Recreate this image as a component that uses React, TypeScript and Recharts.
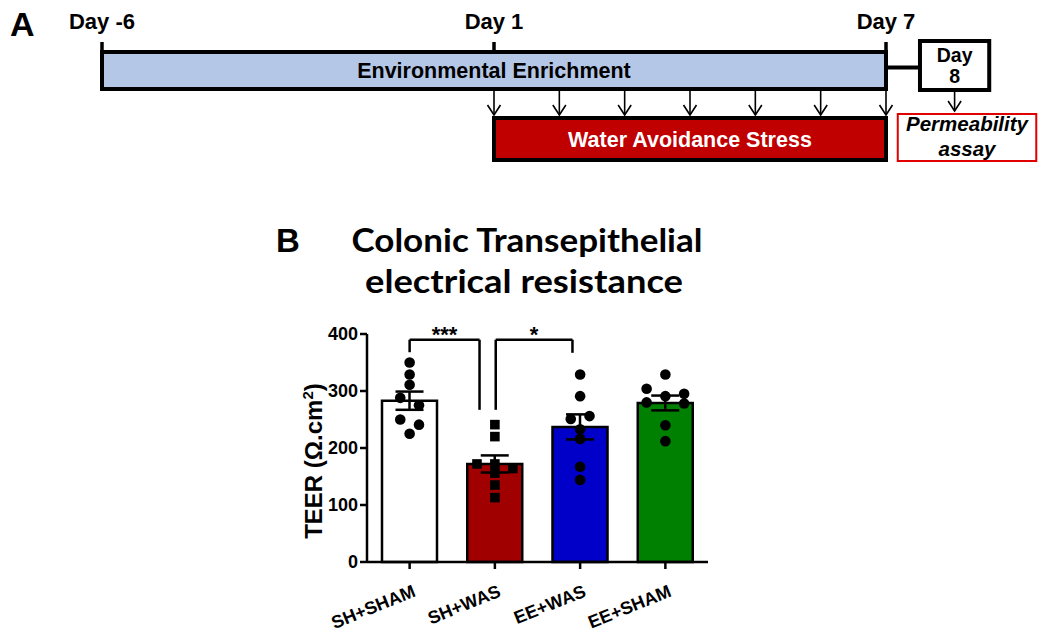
import {
  Bar,
  Cell,
  ComposedChart,
  ErrorBar,
  ReferenceArea,
  ReferenceLine,
  Scatter,
  XAxis,
  YAxis,
} from 'recharts'

const FONT = '"Liberation Sans", Arial, sans-serif'

// ---- panel A: protocol timeline (slot = position along the schematic) ----
const dayLabels = ['Day -6', 'Day 1', 'Day 7']
const daySlots = [0, 6, 12]
const wasArrowSlots = [6, 7, 8, 9, 10, 11, 12]
const day8Lines = ['Day', '8']
const assayLines = ['Permeability', 'assay']
const day8Slot = 13.05

// rows of the schematic (in tenths of the strip height)
const eeRow = [5.2, 8.9]
const wasRow = [11.8, 16.0]
const day8Row = [4.1, 9.0]
const assayRow = [11.4, 16.1]

// ---- panel B: TEER ----
const groups = ['SH+SHAM', 'SH+WAS', 'EE+WAS', 'EE+SHAM']
const means = [283, 172, 237, 279]
const sems = [16, 15, 22, 13]
const fills = ['#ffffff', '#a00000', '#0000c8', '#008000']

const shShamPts = [350, 329, 311, 288, 275, 250, 241, 225]
const shShamJitter = [0, 0, 0, -0.11, 0.11, -0.11, 0.11, 0]
const shWasPts = [241, 220, 172, 172, 164, 156, 135, 113]
const shWasJitter = [0, 0, -0.21, 0, 0.21, 0, 0, 0]
const eeWasPts = [329, 291, 251, 256, 233, 216, 167, 144]
const eeWasJitter = [0, 0, -0.11, 0.11, 0, 0, 0, 0]
const eeShamPts = [329, 304, 295, 291, 280, 278, 240, 212]
const eeShamJitter = [0, -0.22, 0.22, 0, -0.22, 0.22, 0, 0]

const yTicks = [0, 100, 200, 300, 400]

// significance brackets: from/to in group units, heights in TEER units
const brackets = [
  { from: 0, to: 0.82, top: 390, leftEnd: 368, rightEnd: 267, label: '***' },
  { from: 1.01, to: 1.91, top: 390, leftEnd: 267, rightEnd: 367, label: '*' },
]

const barData = groups.map((name, i) => ({ name, mean: means[i], sem: sems[i] }))
const pts = (gi: number, vals: number[], jit: number[]) =>
  vals.map((v, i) => ({ pos: gi + jit[i], teer: v }))
const circlePts = [
  ...pts(0, shShamPts, shShamJitter),
  ...pts(2, eeWasPts, eeWasJitter),
  ...pts(3, eeShamPts, eeShamJitter),
]
const squarePts = pts(1, shWasPts, shWasJitter)

const Arrow = (len: number) => (p: any) => (
  <g stroke="#000" strokeWidth={1.6} fill="none">
    <line x1={p.cx} y1={p.cy - len} x2={p.cx} y2={p.cy} />
    <polyline points={`${p.cx - 6.5},${p.cy - 10} ${p.cx},${p.cy} ${p.cx + 6.5},${p.cy - 10}`} />
  </g>
)

const DayText = (p: any) => (
  <text x={p.cx} y={p.cy} textAnchor="middle" fontFamily={FONT} fontWeight={700} fontSize={22} fill="#000">
    {p.payload.label}
  </text>
)

const boxLabel = (lines: string[], first: number, step: number, italic: boolean, size: number) => (p: any) => {
  const { x, y, width } = p.viewBox
  return (
    <g>
      {lines.map((l, i) => (
        <text
          key={l}
          x={x + width / 2}
          y={y + first + i * step}
          textAnchor="middle"
          fontFamily={FONT}
          fontWeight={700}
          fontStyle={italic ? 'italic' : 'normal'}
          fontSize={size}
          fill="#000"
        >
          {l}
        </text>
      ))}
    </g>
  )
}

const starLabel = (text: string) => (p: any) => {
  const { x, y, width } = p.viewBox
  return (
    <text x={x + width / 2} y={y + 2} textAnchor="middle" fontFamily={FONT} fontWeight={700} fontSize={22} fill="#000">
      {text}
    </text>
  )
}

const Dot = (p: any) => <circle cx={p.cx} cy={p.cy} r={5.3} fill="#000" />
const Square = (p: any) => <rect x={p.cx - 4.8} y={p.cy - 4.8} width={9.6} height={9.6} fill="#000" />

const CatTick = ({ x, y, payload }: any) => (
  <g transform={`translate(${x + 7}, ${y + 25}) rotate(-22)`}>
    <text textAnchor="end" fontFamily={FONT} fontWeight={700} fontSize={18} fill="#000">
      {payload.value}
    </text>
  </g>
)

const YLabel = (p: any) => {
  const cx = p.viewBox.x + 15
  const cy = 161
  return (
    <text
      x={cx}
      y={cy}
      transform={`rotate(-90, ${cx}, ${cy})`}
      textAnchor="middle"
      fontFamily={FONT}
      fontWeight={700}
      fontSize={24}
      fill="#000"
    >
      TEER (Ω.cm
      <tspan dy={-9} fontSize={15}>2</tspan>
      <tspan dy={9}>)</tspan>
    </text>
  )
}

export default function App() {
  const dayPts = dayLabels.map((label, i) => ({ x: daySlots[i], y: 2.9, label }))
  const arrowPts = wasArrowSlots.map((s) => ({ x: s, y: wasRow[0] - 0.3 }))

  return (
    <div style={{ position: 'absolute', left: 0, top: 0, width: 1050, height: 633, background: '#fff' }}>
      <div style={{ position: 'absolute', left: 0, top: 0 }}>
        <ComposedChart width={1050} height={180} margin={{ top: 0, right: 0, bottom: 0, left: 0 }}>
          <XAxis type="number" dataKey="x" domain={[-1.5612, 14.5102]} allowDataOverflow hide />
          <YAxis type="number" dataKey="y" domain={[0, 18]} reversed allowDataOverflow hide />
          {daySlots.map((s) => (
            <ReferenceLine key={s} segment={[{ x: s, y: 4.2 }, { x: s, y: eeRow[0] }]} stroke="#000" strokeWidth={3.5} />
          ))}
          <ReferenceLine segment={[{ x: 12, y: 6.75 }, { x: 12.52, y: 6.75 }]} stroke="#000" strokeWidth={4} />
          <ReferenceArea
            x1={0}
            x2={12}
            y1={eeRow[0]}
            y2={eeRow[1]}
            fill="#b4c7e7"
            fillOpacity={1}
            stroke="#000"
            strokeWidth={4}
            label={{ value: 'Environmental Enrichment', position: 'center', fill: '#000', fontSize: 21.5, fontWeight: 700, fontFamily: FONT }}
          />
          <ReferenceArea
            x1={12.52}
            x2={13.58}
            y1={day8Row[0]}
            y2={day8Row[1]}
            fill="#fff"
            fillOpacity={1}
            stroke="#000"
            strokeWidth={4}
            label={boxLabel(day8Lines, 21, 21, false, 19.5)}
          />
          <ReferenceArea
            x1={6}
            x2={12}
            y1={wasRow[0]}
            y2={wasRow[1]}
            fill="#c00000"
            fillOpacity={1}
            stroke="#000"
            strokeWidth={4}
            label={{ value: 'Water Avoidance Stress', position: 'center', fill: '#fff', fontSize: 21.5, fontWeight: 700, fontFamily: FONT }}
          />
          <ReferenceArea
            x1={12.18}
            x2={14.3}
            y1={assayRow[0]}
            y2={assayRow[1]}
            fill="#fff"
            fillOpacity={1}
            stroke="#e00000"
            strokeWidth={2}
            label={boxLabel(assayLines, 17, 25, true, 20.5)}
          />
          <Scatter data={dayPts} dataKey="y" shape={DayText} isAnimationActive={false} />
          <Scatter data={arrowPts} dataKey="y" shape={Arrow(25)} isAnimationActive={false} />
          <Scatter data={[{ x: day8Slot, y: 11.1 }]} dataKey="y" shape={Arrow(19)} isAnimationActive={false} />
        </ComposedChart>
      </div>

      <div style={{ position: 'absolute', left: 0, top: 300 }}>
        <ComposedChart width={1050} height={333} data={barData} margin={{ top: 34, right: 342, bottom: 11, left: 307 }}>
          <XAxis
            xAxisId="cat"
            dataKey="name"
            stroke="#000"
            strokeWidth={2.5}
            tickSize={7}
            height={60}
            interval={0}
            tick={<CatTick />}
          />
          <XAxis xAxisId="pos" type="number" dataKey="pos" domain={[-0.5, 3.5]} allowDataOverflow hide />
          <YAxis
            type="number"
            domain={[0, 400]}
            ticks={yTicks}
            width={60}
            stroke="#000"
            strokeWidth={2.5}
            tickSize={7}
            tick={{ fill: '#000', fontSize: 18, fontWeight: 700, fontFamily: FONT }}
            label={<YLabel />}
          />
          <Bar xAxisId="cat" dataKey="mean" barSize={55} stroke="#000" strokeWidth={2.5} isAnimationActive={false}>
            {barData.map((d, i) => (
              <Cell key={d.name} fill={fills[i]} />
            ))}
            <ErrorBar dataKey="sem" width={14} stroke="#000" strokeWidth={2.5} direction="y" />
          </Bar>
          <Scatter xAxisId="pos" data={circlePts} dataKey="teer" shape={Dot} isAnimationActive={false} />
          <Scatter xAxisId="pos" data={squarePts} dataKey="teer" shape={Square} isAnimationActive={false} />
          {brackets.map((b) => [
            <ReferenceLine
              key={b.label + 'l'}
              xAxisId="pos"
              segment={[{ x: b.from, y: b.leftEnd }, { x: b.from, y: b.top }]}
              stroke="#000"
              strokeWidth={2.5}
            />,
            <ReferenceLine
              key={b.label + 't'}
              xAxisId="pos"
              segment={[{ x: b.from, y: b.top }, { x: b.to, y: b.top }]}
              stroke="#000"
              strokeWidth={2.5}
              label={starLabel(b.label)}
            />,
            <ReferenceLine
              key={b.label + 'r'}
              xAxisId="pos"
              segment={[{ x: b.to, y: b.top }, { x: b.to, y: b.rightEnd }]}
              stroke="#000"
              strokeWidth={2.5}
            />,
          ])}
        </ComposedChart>
      </div>

      <svg width={1050} height={633} style={{ position: 'absolute', left: 0, top: 0, pointerEvents: 'none' }}>
        <text x={10} y={36} fontFamily={FONT} fontWeight={700} fontSize={34} fill="#000">A</text>
        <text x={276} y={252} fontFamily={FONT} fontWeight={700} fontSize={33} fill="#000">B</text>
        <text
          x={527}
          y={252}
          textAnchor="middle"
          fontFamily="Lato, 'Open Sans', sans-serif"
          fontWeight={700}
          fontSize={32}
          fill="#000"
          textLength={351}
          lengthAdjust="spacingAndGlyphs"
        >
          Colonic Transepithelial
        </text>
        <text
          x={524}
          y={293}
          textAnchor="middle"
          fontFamily="Lato, 'Open Sans', sans-serif"
          fontWeight={700}
          fontSize={32}
          fill="#000"
          textLength={318}
          lengthAdjust="spacingAndGlyphs"
        >
          electrical resistance
        </text>
      </svg>
    </div>
  )
}
